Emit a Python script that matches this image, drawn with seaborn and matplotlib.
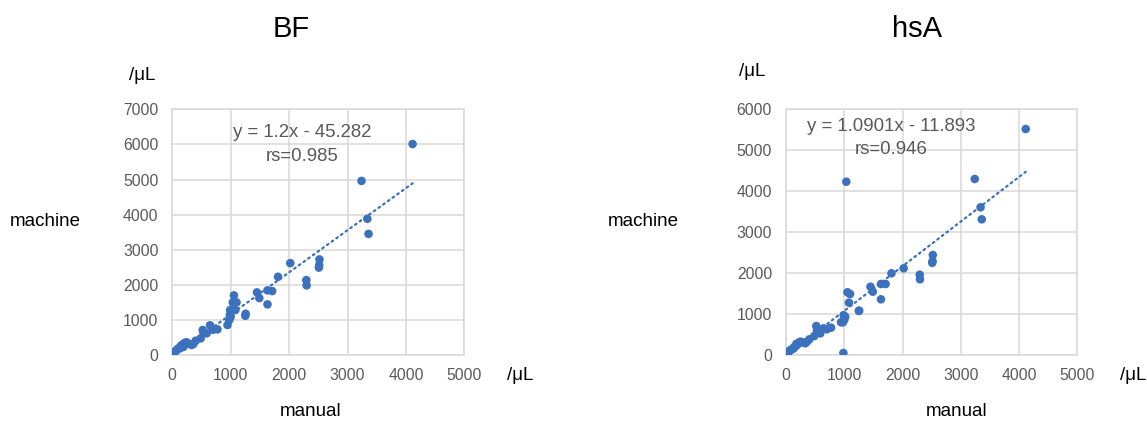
import numpy as np
import pandas as pd
import matplotlib
matplotlib.use("Agg")
import matplotlib.pyplot as plt
import seaborn as sns

# Manual counts (/µL) and the matching machine counts for the two channels
manual = [4115, 3240, 3340, 3360, 2520, 2515, 2510, 2020, 2295, 2300,
          1810, 1630, 1710, 1630, 1450, 1490, 1256, 1250, 1055, 1100,
          1080, 1035, 990, 1017, 1000, 976, 945, 985, 773, 700,
          646, 589, 520, 531, 486, 400, 360, 330, 246, 217,
          177, 144, 132, 103, 75, 46, 29, 10, 0, 60,
          190, 280]
machine_bf = [6010, 4960, 3880, 3450, 2723, 2560, 2490, 2618, 2134, 1983,
              2228, 1841, 1821, 1442, 1784, 1622, 1176, 1118, 1698, 1499,
              1280, 1499, 1280, 1280, 1090, 996, 854, 1138, 731, 720,
              845, 617, 711, 655, 475, 407, 313, 285, 360, 350,
              303, 256, 190, 190, 142, 95, 60, 28, 0, 110,
              230, 320]
machine_hsa = [5519, 4298, 3607, 3313, 2442, 2290, 2250, 2117, 1961, 1849,
               1995, 1734, 1734, 1360, 1668, 1546, 1082, 1075, 1531, 1490,
               1278, 4232, 970, 935, 855, 798, 800, 49, 667, 627,
               651, 529, 708, 593, 464, 383, 326, 285, 326, 300,
               269, 200, 163, 140, 122, 80, 57, 20, 0, 100,
               240, 310]

titles = ["BF", "hsA"]
slopes = [1.2, 1.0901]
intercepts = [-45.282, -11.893]
rs_values = ["0.985", "0.946"]
y_limits = [7000, 6000]
x_ticks = [0, 1000, 2000, 3000, 4000, 5000]

sns.set_theme(style="white")
plt.rcParams["font.family"] = ["Liberation Sans", "DejaVu Sans"]

BLUE = "#3C71BE"
GRID = "#D9D9D9"
TICK = "#595959"

fig = plt.figure(figsize=(11.47, 4.21), dpi=100)
W, H = 1147, 421


def fx(px):
    return px / W


def fy(py):
    return 1 - py / H


panels = [
    dict(left=172.3, right=464.3, title_x=291, ylab=(142, 75), mach=(45, 222),
         xunit=(520, 376), man=(311, 412), eq=(0.4436, 0.94)),
    dict(left=786.0, right=1077.3, title_x=917, ylab=(752, 72), mach=(643, 222),
         xunit=(1133, 376), man=(957, 412), eq=(0.362, 0.965)),
]
top_px, bot_px = 109.3, 355.0

for i, (p, machine) in enumerate(zip(panels, [machine_bf, machine_hsa])):
    ax = fig.add_axes([fx(p["left"]), fy(bot_px),
                       fx(p["right"] - p["left"]), (bot_px - top_px) / H])
    df = pd.DataFrame({"manual": manual, "machine": machine})

    # fitted trend line from the stated equation
    xs = np.array([min(manual), max(manual)], dtype=float)
    ys = slopes[i] * xs + intercepts[i]
    ax.plot(xs, ys, color=BLUE, lw=1.6, linestyle=(0, (0.8, 1.8)),
            zorder=2, dash_capstyle="round")

    sns.scatterplot(data=df, x="manual", y="machine", ax=ax, color=BLUE,
                    s=38, edgecolor="none", zorder=3, legend=False)

    ax.set_xlim(0, 5000)
    ax.set_ylim(0, y_limits[i])
    ax.set_xticks(x_ticks)
    ax.set_yticks(np.arange(0, y_limits[i] + 1, 1000))
    ax.grid(True, color=GRID, lw=1.1)
    ax.set_axisbelow(True)
    for s in ax.spines.values():
        s.set_color(GRID)
        s.set_linewidth(1.1)
    ax.tick_params(axis="both", length=0, labelsize=11.3, labelcolor=TICK)
    ax.tick_params(axis="y", pad=10)
    ax.tick_params(axis="x", pad=9)
    ax.set_xlabel("")
    ax.set_ylabel("")

    sign = "-" if intercepts[i] < 0 else "+"
    eq_text = f"y = {slopes[i]}x {sign} {abs(intercepts[i])}\nrs={rs_values[i]}"
    ax.text(p["eq"][0], p["eq"][1], eq_text, transform=ax.transAxes,
            ha="center", va="top", fontsize=13.4, color=TICK,
            linespacing=1.5, multialignment="center")

    fig.text(fx(p["title_x"]), fy(29), titles[i], ha="center", va="center",
             fontsize=21, color="black")
    fig.text(fx(p["ylab"][0]), fy(p["ylab"][1]), "/μL", ha="center",
             va="center", fontsize=13.5, color="black")
    fig.text(fx(p["mach"][0]), fy(p["mach"][1]), "machine", ha="center",
             va="center", fontsize=13.5, color="black")
    fig.text(fx(p["xunit"][0]), fy(p["xunit"][1]), "/μL", ha="center",
             va="center", fontsize=13.5, color="black")
    fig.text(fx(p["man"][0]), fy(p["man"][1]), "manual", ha="center",
             va="center", fontsize=13.5, color="black")

fig.savefig("out.png", dpi=100, facecolor="white")
